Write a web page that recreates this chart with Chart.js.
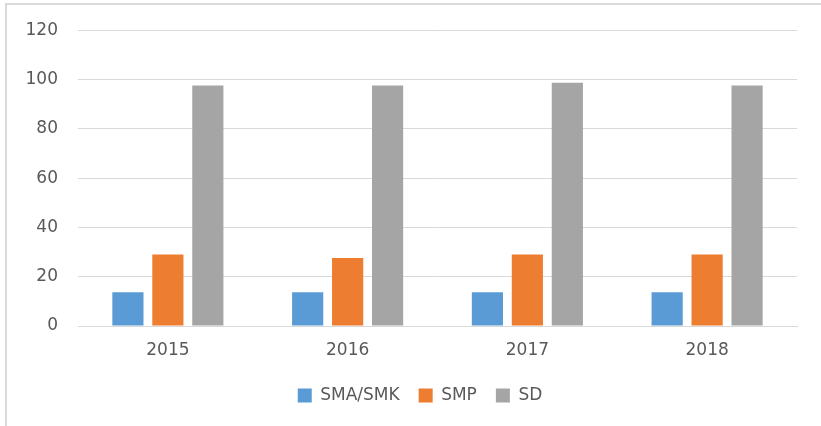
<!DOCTYPE html>
<html>
<head>
<meta charset="utf-8">
<script src="https://cdn.jsdelivr.net/npm/chart.js@4.4.0/dist/chart.umd.min.js"></script>
<style>
  html, body { margin: 0; padding: 0; background: #fff; }
  #wrap { position: relative; width: 821px; height: 426px; }
  #frame { position: absolute; left: 5px; top: 3px; right: 0; bottom: 0;
           border-top: 2px solid #d9d9d9; border-left: 2px solid #d9d9d9; }
  canvas { position: absolute; left: 0; top: 0; }
</style>
</head>
<body>
<div id="wrap">
  <div id="frame"></div>
  <canvas id="c" width="821" height="426"></canvas>
</div>
<script>
const categories = ['2015', '2016', '2017', '2018'];
const smaSmk = [13.7, 13.7, 13.7, 13.7];
const smp = [29.0, 27.6, 29.0, 29.0];
const sd = [97.6, 97.6, 98.7, 97.6];
const yTicks = [0, 20, 40, 60, 80, 100, 120];

const font = "'DejaVu Sans', 'Open Sans', sans-serif";
const shiftLegend = {
  id: 'shiftLegend',
  afterLayout(chart) {
    if (chart.legend) { chart.legend.left = 43; chart.legend.width = chart.legend.right - 43; }
  }
};
new Chart(document.getElementById('c'), {
  type: 'bar',
  plugins: [shiftLegend],
  data: {
    labels: categories,
    datasets: [
      { label: 'SMA/SMK', data: smaSmk, backgroundColor: '#5b9bd5' },
      { label: 'SMP', data: smp, backgroundColor: '#ed7d31' },
      { label: 'SD', data: sd, backgroundColor: '#a5a5a5' }
    ]
  },
  options: {
    responsive: false,
    animation: false,
    categoryPercentage: 0.667,
    barPercentage: 0.78,
    layout: { padding: { top: 28, right: 24, bottom: 12, left: 0 } },
    plugins: {
      tooltip: { enabled: false },
      legend: {
        position: 'bottom',
        labels: {
          boxWidth: 14, boxHeight: 14, padding: 19,
          color: '#595959',
          font: { family: font, size: 17 }
        }
      }
    },
    scales: {
      x: {
        afterFit: (s) => { s.height = 42; },
        grid: { display: false, drawTicks: false },
        border: { color: '#d9d9d9', width: 1 },
        ticks: { color: '#595959', padding: 14, font: { family: font, size: 17 } }
      },
      y: {
        min: 0, max: 120,
        afterFit: (s) => { s.width = 78; },
        afterBuildTicks: (s) => { s.ticks = yTicks.map(v => ({ value: v })); },
        grid: { color: '#d9d9d9', drawTicks: false },
        border: { display: false },
        ticks: { color: '#595959', padding: 20, font: { family: font, size: 17 } }
      }
    }
  }
});
</script>
</body>
</html>
